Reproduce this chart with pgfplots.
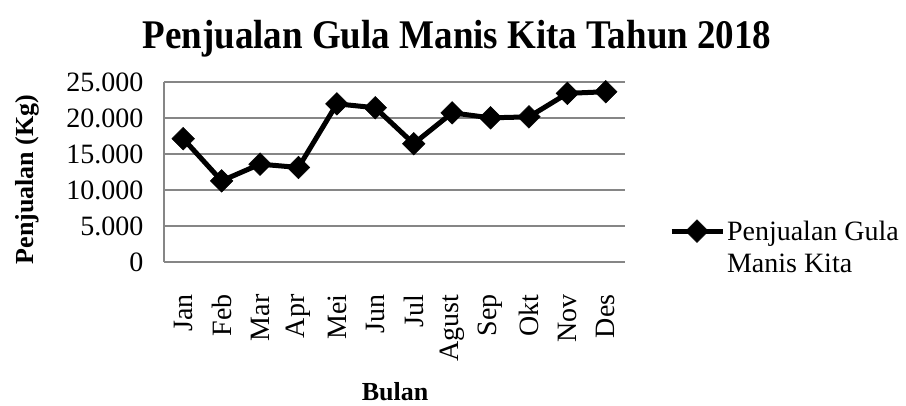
\documentclass[border=0pt]{standalone}
\usepackage{pgfplots}
\pgfplotsset{compat=1.18}
\usepackage{fontspec}
\setmainfont{Liberation Serif}
\usepackage{graphicx}
\definecolor{gridgray}{RGB}{134,134,134}
\pgfplotstableread{
x y
0 17130
1 11270
2 13590
3 13130
4 21970
5 21420
6 16430
7 20720
8 20020
9 20160
10 23420
11 23650
}\sales
\begin{document}
\begin{tikzpicture}[x=1bp,y=1bp]
\path[use as bounding box] (0,0) rectangle (906,405);
\begin{axis}[
  at={(164bp,143bp)}, anchor=south west,
  width=461bp, height=180bp, scale only axis,
  xmin=-0.5, xmax=11.5, ymin=0, ymax=25000,
  xtick={0,...,11},
  xticklabels={Jan,Feb,Mar,Apr,Mei,Jun,Jul,Agust,Sep,Okt,Nov,Des},
  ytick={0,5000,10000,15000,20000,25000},
  scaled y ticks=false,
  /pgf/number format/assume math mode=true,
  /pgf/number format/1000 sep={.},
  ymajorgrids,
  grid style={draw=gridgray, line width=1.5bp},
  axis x line*=bottom, axis y line*=left,
  axis line style={draw=gridgray, line width=1.5bp, -},
  major tick length=0pt,
  tick label style={font=\fontsize{28bp}{30bp}\selectfont},
  xticklabel style={rotate=90, anchor=east},
  xticklabel shift=29bp,
  yticklabel shift=17bp,
  legend style={at={(1.095,0.239)}, anchor=north west, draw=none, fill=none,
    font=\fontsize{28bp}{32bp}\selectfont, inner sep=0pt,
    cells={anchor=base west, align=left}},
  legend image code/.code={\draw[mark repeat=2, mark phase=2] plot coordinates {(0bp,41.5bp)(25.5bp,41.5bp)(51bp,41.5bp)};},
]
\addplot[black, line width=5bp, mark=square*, mark size=8bp,
  mark options={rotate=45, fill=black, line width=0.5bp, solid}] table[x=x, y=y] {\sales};
\addlegendentry{Penjualan Gula\\Manis Kita}
\end{axis}
\node[anchor=base] at (457,357) {\scalebox{1}[1.1]{\fontsize{37bp}{40bp}\selectfont\bfseries Penjualan Gula Manis Kita Tahun 2018}};
\node[anchor=base, rotate=90] at (33,225.5) {\fontsize{26bp}{28bp}\selectfont\bfseries Penjualan (Kg)};
\node[anchor=base] at (395,5) {\fontsize{26bp}{28bp}\selectfont\bfseries Bulan};
\end{tikzpicture}
\end{document}
